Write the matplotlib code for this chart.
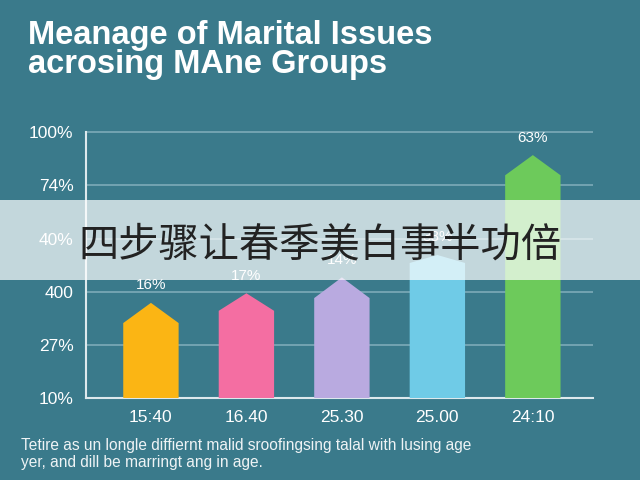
import matplotlib
matplotlib.use("Agg")
import matplotlib.pyplot as plt
from matplotlib.patches import Polygon, Rectangle

# chart data (in axis units)
groups = ["15:40", "16.40", "25.30", "25.00", "24:10"]
shoulder = [1.41, 1.64, 1.88, 2.54, 4.19]
peak = [1.79, 1.97, 2.27, 2.69, 4.57]
bar_labels = ["16%", "17%", "14%", "38%", "63%"]
bar_colors = ["#fbb514", "#f46ea2", "#b9aae0", "#6fcbe7", "#6dca5b"]
ytick_pos = [0, 1, 2, 3, 4, 5]
ytick_labels = ["10%", "27%", "400", "40%", "74%", "100%"]

BG = "#3a7a8b"
plt.rcParams["font.family"] = ["Liberation Sans", "DejaVu Sans"]

fig = plt.figure(figsize=(6.4, 4.8), dpi=100, facecolor=BG)
ax = fig.add_axes([86 / 640, 1 - 398 / 480, (593 - 86) / 640, (398 - 120) / 480])
ax.set_facecolor(BG)

w = 0.58
for i, (s, p, c) in enumerate(zip(shoulder, peak, bar_colors)):
    pts = [(i - w / 2, 0), (i - w / 2, s), (i, p), (i + w / 2, s), (i + w / 2, 0)]
    ax.add_patch(Polygon(pts, closed=True, facecolor=c, edgecolor="none", zorder=3))
    ax.text(i, p + 0.33, bar_labels[i], ha="center", va="center",
            color="white", fontsize=11, zorder=4)

ax.set_xlim(-0.68, 4.63)
ax.set_ylim(0, 5.23)
ax.set_yticks(ytick_pos)
ax.set_yticklabels(ytick_labels)
ax.set_xticks(range(len(groups)))
ax.set_xticklabels(groups)
ax.tick_params(axis="both", length=0, colors="white", labelsize=12.5)
ax.tick_params(axis="y", pad=9)
ax.tick_params(axis="x", pad=9)
ax.set_axisbelow(True)
ax.grid(axis="y", color="#8db7c3", linewidth=1.2, alpha=0.8)
for side in ["top", "right"]:
    ax.spines[side].set_visible(False)
ax.spines["left"].set_bounds(0, 5)
ax.spines["left"].set_color("#dde9ed")
ax.spines["bottom"].set_color("#dde9ed")
ax.spines["left"].set_linewidth(1.5)
ax.spines["bottom"].set_linewidth(1.5)

fig.text(28 / 640, 1 - 20 / 480,
         "Meanage of Marital Issues\nacrosing MAne Groups",
         ha="left", va="top", color="white", fontsize=23.5, fontweight="bold",
         linespacing=0.9)

fig.text(21 / 640, 1 - 454 / 480,
         "Tetire as un longle diffiernt malid sroofingsing talal with lusing age\n"
         "yer, and dill be marringt ang in age.",
         ha="left", va="center", color="#eef3f5", fontsize=11.2, linespacing=1.15)

# translucent banner across the middle
fig.patches.append(Rectangle((0, 1 - 280 / 480), 1, 80 / 480, transform=fig.transFigure,
                             facecolor="white", alpha=0.7, edgecolor="none", zorder=5))
fig.text(0.5, 1 - 245 / 480, "四步骤让春季美白事半功倍", ha="center", va="center",
         color="#222222", fontsize=29, family=["Noto Sans CJK SC", "DejaVu Sans"],
         zorder=6)

fig.savefig("out.png", dpi=100, facecolor=BG)
